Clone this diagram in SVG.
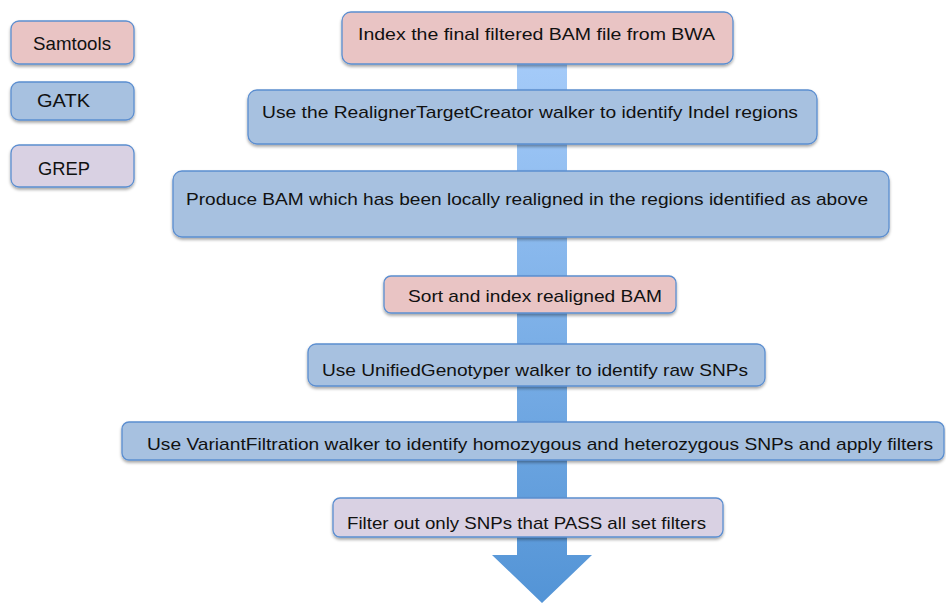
<svg xmlns="http://www.w3.org/2000/svg" width="946" height="603" viewBox="0 0 946 603">
  <defs>
    <linearGradient id="shaft" x1="0" y1="40" x2="0" y2="603" gradientUnits="userSpaceOnUse">
      <stop offset="0" stop-color="#a8cdfa"/>
      <stop offset="1" stop-color="#5394d6"/>
    </linearGradient>
    <filter id="sh" x="-5%" y="-20%" width="110%" height="150%">
      <feDropShadow dx="0" dy="2" stdDeviation="1.5" flood-color="#000" flood-opacity="0.35"/>
    </filter>
  </defs>
  <style>
    .box { stroke: #5b8ed0; stroke-width: 1.3; filter: url(#sh); }
    .sam { fill: #e9c4c4; }
    .gatk { fill: #a7c1e0; }
    .grep { fill: #d9d1e3; }
    text { font-family: "Liberation Sans", Arial, sans-serif; font-size: 17px; fill: #111; }
    .leg { font-size: 19px; }
  </style>
  <rect width="946" height="603" fill="#ffffff"/>

  <g id="connectors">
    <polygon points="517,40 567,40 567,555 592,555 542,603 492,555 517,555" fill="url(#shaft)"/>
  </g>

  <g id="legend-samtools">
    <rect class="box sam" x="11" y="21" width="123" height="43" rx="8"/>
    <text class="leg" x="33" y="50" textLength="78" lengthAdjust="spacingAndGlyphs">Samtools</text>
  </g>
  <g id="legend-gatk">
    <rect class="box gatk" x="11" y="82" width="123" height="38" rx="8"/>
    <text class="leg" x="37" y="107" textLength="53" lengthAdjust="spacingAndGlyphs">GATK</text>
  </g>
  <g id="legend-grep">
    <rect class="box grep" x="11" y="145" width="123" height="42" rx="8"/>
    <text class="leg" x="38" y="175" textLength="52" lengthAdjust="spacingAndGlyphs">GREP</text>
  </g>

  <g id="step1">
    <rect class="box sam" x="342" y="12" width="391" height="52" rx="9"/>
    <text x="358" y="40" textLength="357" lengthAdjust="spacingAndGlyphs">Index the final filtered BAM file from BWA</text>
  </g>
  <g id="step2">
    <rect class="box gatk" x="248" y="90" width="569" height="54" rx="9"/>
    <text x="262" y="118" textLength="536" lengthAdjust="spacingAndGlyphs">Use the RealignerTargetCreator walker to identify Indel regions</text>
  </g>
  <g id="step3">
    <rect class="box gatk" x="173" y="171" width="716" height="66" rx="9"/>
    <text x="186" y="205" textLength="682" lengthAdjust="spacingAndGlyphs">Produce BAM which has been locally realigned in the regions identified as above</text>
  </g>
  <g id="step4">
    <rect class="box sam" x="384" y="276" width="292" height="37" rx="7"/>
    <text x="408" y="302" textLength="254" lengthAdjust="spacingAndGlyphs">Sort and index realigned BAM</text>
  </g>
  <g id="step5">
    <rect class="box gatk" x="308" y="344" width="457" height="42" rx="8"/>
    <text x="322" y="376" textLength="426" lengthAdjust="spacingAndGlyphs">Use UnifiedGenotyper walker to identify raw SNPs</text>
  </g>
  <g id="step6">
    <rect class="box gatk" x="122" y="422" width="822" height="38" rx="7"/>
    <text x="147" y="450" textLength="786" lengthAdjust="spacingAndGlyphs">Use VariantFiltration walker to identify homozygous and heterozygous SNPs and apply filters</text>
  </g>
  <g id="step7">
    <rect class="box grep" x="333" y="498" width="390" height="39" rx="7"/>
    <text x="347" y="529" textLength="359" lengthAdjust="spacingAndGlyphs">Filter out only SNPs that PASS all set filters</text>
  </g>
</svg>
